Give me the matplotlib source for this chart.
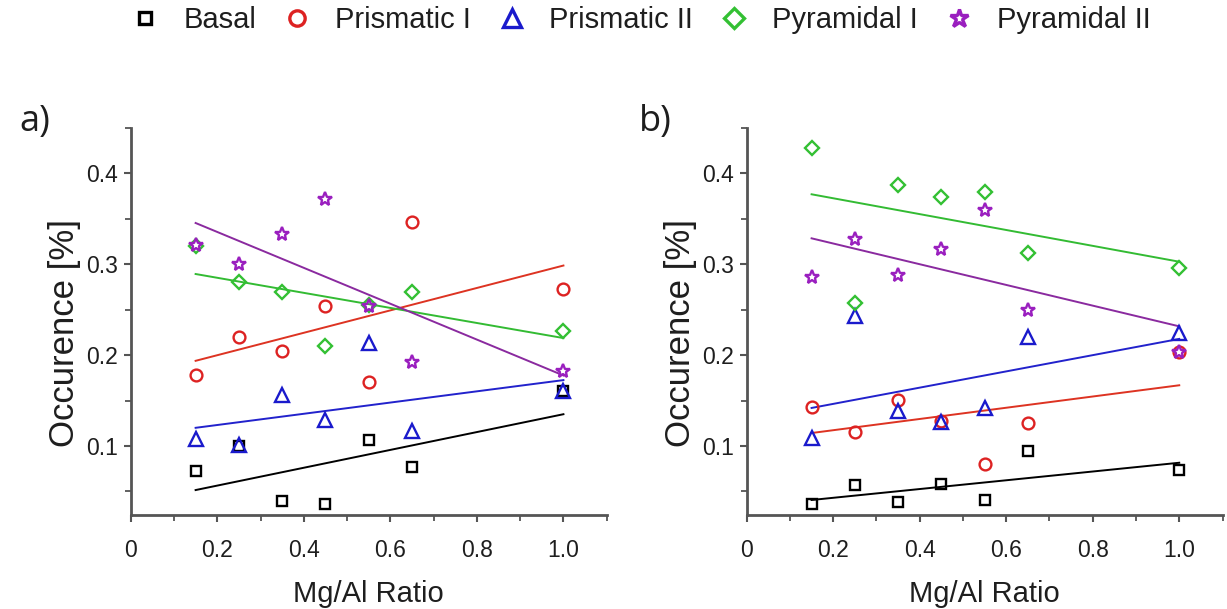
import numpy as np
import matplotlib
matplotlib.use("Agg")
import matplotlib.pyplot as plt
from matplotlib.ticker import MultipleLocator
from matplotlib.lines import Line2D

plt.rcParams['font.family'] = ['Liberation Sans', 'DejaVu Sans']

# ---- data ----
mg_al_ratio = [0.15, 0.25, 0.35, 0.45, 0.55, 0.65, 1.0]
series_names = ["Basal", "Prismatic I", "Prismatic II", "Pyramidal I", "Pyramidal II"]

# panel a)
basal_a = [0.072, 0.100, 0.039, 0.036, 0.107, 0.077, 0.160]
prism1_a = [0.178, 0.220, 0.205, 0.254, 0.170, 0.346, 0.273]
prism2_a = [0.108, 0.101, 0.156, 0.129, 0.213, 0.117, 0.161]
pyr1_a = [0.320, 0.280, 0.269, 0.210, 0.255, 0.269, 0.227]
pyr2_a = [0.321, 0.300, 0.333, 0.372, 0.254, 0.192, 0.182]

# panel b)
basal_b = [0.036, 0.057, 0.038, 0.058, 0.040, 0.094, 0.074]
prism1_b = [0.143, 0.115, 0.151, 0.128, 0.080, 0.125, 0.203]
prism2_b = [0.109, 0.243, 0.139, 0.126, 0.142, 0.220, 0.224]
pyr1_b = [0.428, 0.257, 0.387, 0.374, 0.380, 0.312, 0.296]
pyr2_b = [0.286, 0.328, 0.288, 0.317, 0.360, 0.250, 0.203]

x_ticks = [0, 0.2, 0.4, 0.6, 0.8, 1.0]
x_tick_labels = ["0", "0.2", "0.4", "0.6", "0.8", "1.0"]
y_ticks = [0.1, 0.2, 0.3, 0.4]
y_tick_labels = ["0.1", "0.2", "0.3", "0.4"]

# ---- styles ----
colors = ["#000000", "#dd2222", "#1a1acc", "#33c033", "#9a1fbf"]
line_colors = ["#000000", "#dd3322", "#2222cc", "#33bb33", "#8a2a9f"]
markers = ["s", "o", "^", "D", "*"]
msizes = [7, 8.5, 10, 7.5, 10.5]

W, H = 1227, 609
fig = plt.figure(figsize=(W / 100, H / 100), dpi=100)

def px_axes(l, r, t, b):
    return [l / W, 1 - b / H, (r - l) / W, (b - t) / H]

ax_a = fig.add_axes(px_axes(130.7, 606.7, 128, 515))
ax_b = fig.add_axes(px_axes(746.7, 1222.5, 128, 515))

panels = [
    (ax_a, [basal_a, prism1_a, prism2_a, pyr1_a, pyr2_a], "a)", 35),
    (ax_b, [basal_b, prism1_b, prism2_b, pyr1_b, pyr2_b], "b)", 655),
]

x = np.array(mg_al_ratio)
spine_col = "#555555"
txt_col = "#1e1e1e"
for ax, data, label, lx in panels:
    for i, ys in enumerate(data):
        ys = np.array(ys)
        k, c = np.polyfit(x, ys, 1)
        xl = np.array([x.min(), x.max()])
        ax.plot(xl, k * xl + c, color=line_colors[i], lw=1.4, zorder=2)
        ax.plot(x, ys, linestyle="none", marker=markers[i], ms=msizes[i],
                mfc="none", mec=colors[i], mew=1.7, zorder=3)
    ax.set_xlim(0, 1.1)
    ax.set_ylim(0.024, 0.45)
    ax.set_xticks(x_ticks)
    ax.set_xticklabels(x_tick_labels)
    ax.set_yticks(y_ticks)
    ax.set_yticklabels(y_tick_labels)
    ax.xaxis.set_minor_locator(MultipleLocator(0.1))
    ax.yaxis.set_minor_locator(MultipleLocator(0.05))
    for s in ["top", "right"]:
        ax.spines[s].set_visible(False)
    for s in ["left", "bottom"]:
        ax.spines[s].set_color(spine_col)
        ax.spines[s].set_linewidth(2.0)
    ax.tick_params(which="major", direction="out", length=5, width=1.5,
                   color=spine_col, labelsize=16.5, labelcolor=txt_col)
    ax.tick_params(axis="x", which="major", pad=12)
    ax.tick_params(axis="y", which="major", pad=4)
    ax.tick_params(which="minor", direction="out", length=4, width=1.3,
                   color=spine_col)
    ax.set_xlabel("Mg/Al Ratio", fontsize=21, color=txt_col, labelpad=13)
    ax.set_ylabel("Occurence [%]", fontsize=25, color=txt_col)
    ax.yaxis.set_label_coords(-0.105, 0.47)
    fig.text(lx / W, 1 - 122 / H, label, fontsize=26, family=["Open Sans", "DejaVu Sans"],
             ha="center", va="center", color=txt_col)

handles = [Line2D([], [], linestyle="none", marker=markers[i], ms=msizes[i] * 1.3,
                  mfc="none", mec=colors[i], mew=2.4) for i in range(5)]
fig.legend(handles, series_names, loc="center", bbox_to_anchor=(0.522, 1 - 20 / H),
           ncol=5, frameon=False, fontsize=21, handlelength=1.0, handletextpad=0.8,
           columnspacing=0.9, labelcolor=txt_col)

fig.savefig("out.png", dpi=100)
